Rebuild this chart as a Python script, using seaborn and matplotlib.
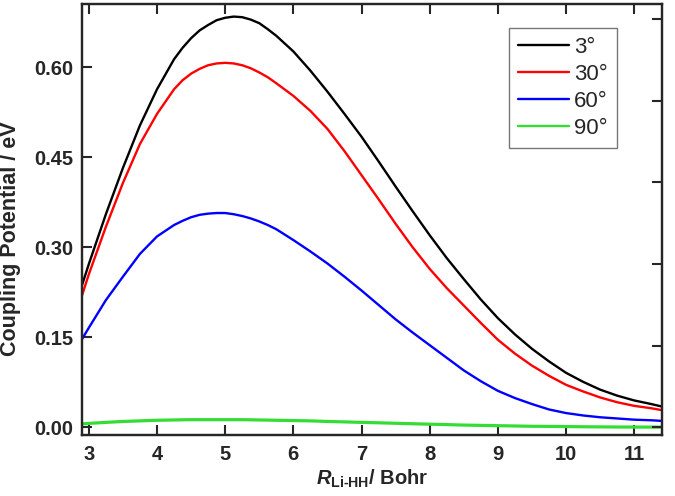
import matplotlib
matplotlib.use("Agg")
import matplotlib.pyplot as plt
import pandas as pd
import seaborn as sns

# values
r_bohr = [2.9, 3.0, 3.25, 3.5, 3.75, 4.0, 4.25, 4.375, 4.5, 4.625, 4.75, 4.875, 5.0,
          5.125, 5.25, 5.375, 5.5, 5.625, 5.75,
          6.0, 6.25, 6.5, 6.75, 7.0, 7.25, 7.5, 7.75, 8.0, 8.25, 8.5, 8.75,
          9.0, 9.25, 9.5, 9.75, 10.0, 10.25, 10.5, 10.75, 11.0, 11.25, 11.4]
v_3deg = [0.237, 0.272, 0.355, 0.432, 0.503, 0.563, 0.613, 0.632, 0.648, 0.661, 0.670, 0.678, 0.682,
          0.684, 0.683, 0.679, 0.673, 0.663, 0.652,
          0.626, 0.594, 0.559, 0.522, 0.484, 0.443, 0.401, 0.360, 0.320, 0.282, 0.247, 0.213,
          0.182, 0.155, 0.131, 0.110, 0.091, 0.076, 0.063, 0.053, 0.045, 0.039, 0.035]
v_30deg = [0.220, 0.255, 0.334, 0.407, 0.472, 0.522, 0.563, 0.578, 0.589, 0.597, 0.603, 0.606, 0.607,
           0.606, 0.603, 0.598, 0.591, 0.583, 0.573,
           0.552, 0.527, 0.497, 0.460, 0.420, 0.380, 0.339, 0.300, 0.264, 0.232, 0.203, 0.174,
           0.146, 0.123, 0.103, 0.086, 0.071, 0.060, 0.050, 0.042, 0.036, 0.032, 0.029]
v_60deg = [0.147, 0.166, 0.212, 0.251, 0.289, 0.318, 0.337, 0.344, 0.350, 0.354, 0.356, 0.357, 0.357,
           0.355, 0.352, 0.348, 0.343, 0.337, 0.330,
           0.312, 0.293, 0.273, 0.251, 0.228, 0.204, 0.180, 0.158, 0.137, 0.116, 0.095, 0.077,
           0.061, 0.049, 0.039, 0.030, 0.024, 0.020, 0.017, 0.015, 0.013, 0.012, 0.011]
v_90deg = [0.006, 0.0068, 0.0085, 0.010, 0.011, 0.012, 0.0125, 0.0128, 0.013, 0.013, 0.013, 0.013, 0.013,
           0.013, 0.013, 0.0128, 0.0125, 0.0123, 0.012,
           0.0115, 0.011, 0.010, 0.0093, 0.0085, 0.0078, 0.007, 0.0062, 0.0055, 0.0048, 0.004, 0.0035,
           0.003, 0.0025, 0.002, 0.0018, 0.0015, 0.0012, 0.001, 0.0008, 0.0007, 0.0006, 0.0005]
labels = ["3°", "30°", "60°", "90°"]
colors = ["#000000", "#ff0000", "#0000ff", "#33dd33"]

df = pd.DataFrame({
    "R": r_bohr * 4,
    "V": v_3deg + v_30deg + v_60deg + v_90deg,
    "angle": [l for l in labels for _ in r_bohr],
})

sns.set_style("ticks")
plt.rcParams["font.family"] = ["Liberation Sans", "DejaVu Sans"]
plt.rcParams["mathtext.fontset"] = "custom"
plt.rcParams["mathtext.rm"] = "Liberation Sans:bold"
plt.rcParams["mathtext.it"] = "Liberation Sans:bold:italic"

fig = plt.figure(figsize=(6.75, 4.96), dpi=100)
ax = fig.add_axes([0.1215, 0.123, 0.8585, 0.869])

sns.lineplot(data=df, x="R", y="V", hue="angle", palette=colors, linewidth=1.7,
             ax=ax, sort=True)
# green one is drawn a bit thicker in the original
ax.get_lines()[3].set_linewidth(2.3)
for ln in ax.get_lines():
    ln.set_solid_joinstyle("round")

ax.set_xlim(2.9, 11.4)
ax.set_ylim(-0.0125, 0.705)
ax.set_xticks(range(3, 12))
ax.set_yticks([0.0, 0.15, 0.30, 0.45, 0.60])
ax.set_yticklabels(["0.00", "0.15", "0.30", "0.45", "0.60"])
ax.tick_params(axis="both", direction="in", length=7, width=1.5, labelsize=14.5,
               top=True, labeltop=False)
ax.tick_params(axis="x", pad=7)
ax.tick_params(axis="y", pad=6)
for lab in ax.get_xticklabels() + ax.get_yticklabels():
    lab.set_fontweight("bold")

# right side ticks (different spacing, no labels)
ax2 = ax.twinx()
ax2.set_ylim(ax.get_ylim())
ax2.set_yticks([0.0, 0.136, 0.272, 0.408, 0.544, 0.680])
ax2.tick_params(axis="y", direction="in", length=7, width=1.5, labelright=False)

for a in (ax, ax2):
    for s in a.spines.values():
        s.set_linewidth(1.6)

ax.set_ylabel("Coupling Potential / eV", fontsize=15.5, fontweight="bold")
ax.yaxis.set_label_coords(-0.106, 0.455)
ax.set_xlabel(r"$R_{\mathrm{Li‐HH}}$/ Bohr", fontsize=14.5, fontweight="bold", labelpad=3)

h, l = ax.get_legend_handles_labels()
leg = ax.legend(h, l, loc="upper right", bbox_to_anchor=(0.923, 0.944),
                borderaxespad=0, fontsize=16, frameon=True, fancybox=False,
                edgecolor="#555555", handlelength=2.3, handletextpad=0.25,
                borderpad=0.4, labelspacing=0.27)
leg.get_frame().set_linewidth(1.0)

fig.savefig("out.png", dpi=100)
